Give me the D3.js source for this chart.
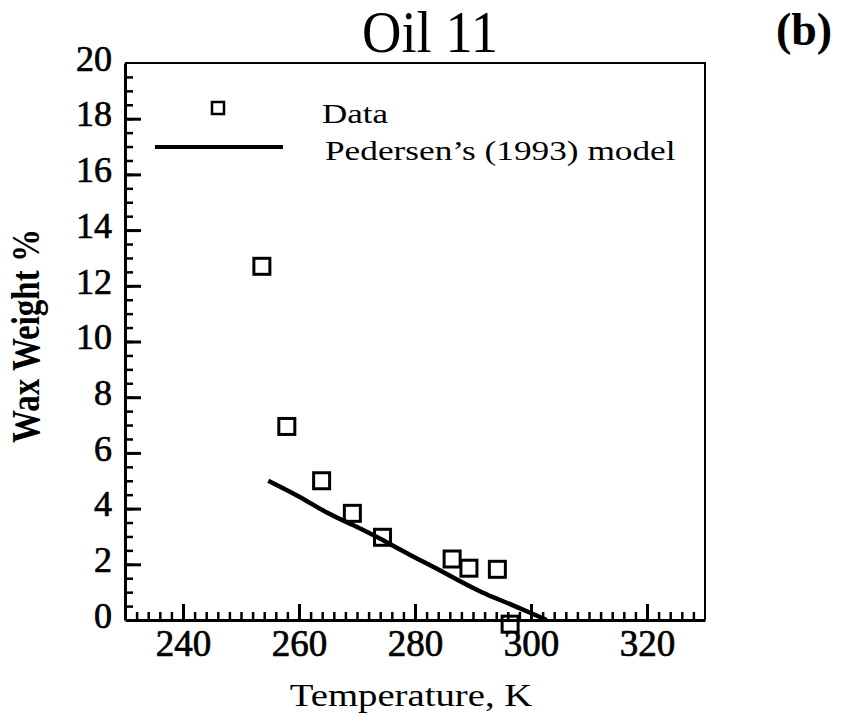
<!DOCTYPE html>
<html>
<head>
<meta charset="utf-8">
<script src="https://cdn.jsdelivr.net/npm/d3@7"></script>
<style>
  body { margin: 0; background: #fff; }
  svg { display: block; font-family: "Liberation Serif", "Times New Roman", serif; }
</style>
</head>
<body>
<svg width="860" height="723"></svg>
<script>
// measured data (Oil 11)
var dataT = [253.6, 257.9, 263.9, 269.2, 274.4, 286.4, 289.3, 294.2, 296.4];
var dataW = [12.7, 6.95, 5.0, 3.83, 2.97, 2.19, 1.86, 1.82, -0.15];

// Pedersen's (1993) model curve
var modelT = [254.7, 260.2, 264.8, 269.4, 274.5, 279.7, 283.2, 287.8, 291.8, 294.7, 298.1, 302.7];
var modelW = [5.0, 4.43, 3.83, 3.41, 2.87, 2.27, 1.91, 1.38, 0.96, 0.72, 0.42, 0.0];

var xTicks = [240, 260, 280, 300, 320];
var yTicks = [0, 2, 4, 6, 8, 10, 12, 14, 16, 18, 20];

var svg = d3.select("svg");

var x = d3.scaleLinear().domain([230, 330]).range([125, 705]);
var y = d3.scaleLinear().domain([0, 20]).range([620, 63]);

// frame: top + right thinner
svg.append("path")
    .attr("d", "M" + x(230) + "," + y(20) + "H" + x(330) + "V" + y(0))
    .attr("fill", "none").attr("stroke", "#000").attr("stroke-width", 2);

// inward ticks: minor every 2 K / 0.5 %, major on labels
svg.append("g")
    .attr("transform", "translate(0," + y(0) + ")")
    .call(d3.axisTop(x).tickValues(d3.range(232, 330, 2)).tickSize(8).tickFormat(""))
    .call(function(g) { g.select(".domain").remove(); })
    .selectAll(".tick line").attr("stroke", "#000").attr("stroke-width", 2.5);

svg.append("g")
    .attr("transform", "translate(0," + y(0) + ")")
    .call(d3.axisTop(x).tickValues(xTicks).tickSize(16).tickFormat(""))
    .call(function(g) { g.select(".domain").remove(); })
    .selectAll(".tick line").attr("stroke", "#000").attr("stroke-width", 3);

svg.append("g")
    .attr("transform", "translate(" + x(230) + ",0)")
    .call(d3.axisRight(y).tickValues(d3.range(0.5, 20, 0.5)).tickSize(8).tickFormat(""))
    .call(function(g) { g.select(".domain").remove(); })
    .selectAll(".tick line").attr("stroke", "#000").attr("stroke-width", 2.5);

svg.append("g")
    .attr("transform", "translate(" + x(230) + ",0)")
    .call(d3.axisRight(y).tickValues(yTicks.slice(1, -1)).tickSize(16).tickFormat(""))
    .call(function(g) { g.select(".domain").remove(); })
    .selectAll(".tick line").attr("stroke", "#000").attr("stroke-width", 3);

// axes (labels + thick domain)
var xAxis = d3.axisBottom(x).tickValues(xTicks).tickSize(0).tickPadding(36);
var yAxis = d3.axisLeft(y).tickValues(yTicks).tickSize(0).tickPadding(13);

var gx = svg.append("g").attr("transform", "translate(0," + y(0) + ")").call(xAxis);
gx.select(".domain").attr("stroke", "#000").attr("stroke-width", 3);
gx.selectAll("text")
    .attr("font-family", "Liberation Serif").attr("font-size", 37)
    .attr("fill", "#000").attr("stroke", "#000").attr("stroke-width", 0.7)
    .attr("dy", "0");

var gy = svg.append("g").attr("transform", "translate(" + x(230) + ",0)").call(yAxis);
gy.select(".domain").attr("stroke", "#000").attr("stroke-width", 3);
gy.selectAll("text")
    .attr("font-family", "Liberation Serif").attr("font-size", 36)
    .attr("fill", "#000").attr("stroke", "#000").attr("stroke-width", 0.7)
    .attr("dy", "0.2em");

// model line
var line = d3.line()
    .x(function(d) { return x(d[0]); })
    .y(function(d) { return y(d[1]); })
    .curve(d3.curveBasis);

svg.append("path")
    .datum(d3.zip(modelT, modelW))
    .attr("d", line)
    .attr("fill", "none").attr("stroke", "#000").attr("stroke-width", 4.5);

// data squares
var sq = 16;
svg.append("g").selectAll("rect")
    .data(d3.zip(dataT, dataW))
    .enter().append("rect")
      .attr("x", function(d) { return x(d[0]) - sq / 2; })
      .attr("y", function(d) { return y(d[1]) - sq / 2; })
      .attr("width", sq).attr("height", sq)
      .attr("fill", "none").attr("stroke", "#000").attr("stroke-width", 3);

// legend
var legend = svg.append("g");
legend.append("rect")
    .attr("x", 212).attr("y", 102).attr("width", 12).attr("height", 12)
    .attr("fill", "none").attr("stroke", "#000").attr("stroke-width", 2.5);
legend.append("line")
    .attr("x1", 155).attr("x2", 283).attr("y1", 147).attr("y2", 147)
    .attr("stroke", "#000").attr("stroke-width", 4);
legend.append("g").attr("transform", "translate(322,123)")
  .append("text").attr("transform", "scale(1.25,1)")
    .attr("font-size", 28).text("Data");
legend.append("g").attr("transform", "translate(325,160)")
  .append("text").attr("transform", "scale(1.26,1)")
    .attr("font-size", 28).text("Pedersen\u2019s (1993) model");

// titles
svg.append("text")
    .attr("x", 430).attr("y", 52).attr("text-anchor", "middle")
    .attr("font-size", 60).attr("textLength", 136).attr("lengthAdjust", "spacingAndGlyphs")
    .text("Oil 11");

svg.append("text")
    .attr("x", 804).attr("y", 45).attr("text-anchor", "middle")
    .attr("font-size", 46).attr("font-weight", "bold").text("(b)");

svg.append("g").attr("transform", "translate(411,706)")
  .append("text").attr("transform", "scale(1.25,1)")
    .attr("text-anchor", "middle").attr("font-size", 31).text("Temperature, K");

svg.append("g").attr("transform", "translate(39,336) rotate(-90)")
  .append("text").attr("transform", "scale(1,1.2)")
    .attr("text-anchor", "middle").attr("font-size", 33).attr("font-weight", "bold")
    .text("Wax Weight %");
</script>
</body>
</html>
